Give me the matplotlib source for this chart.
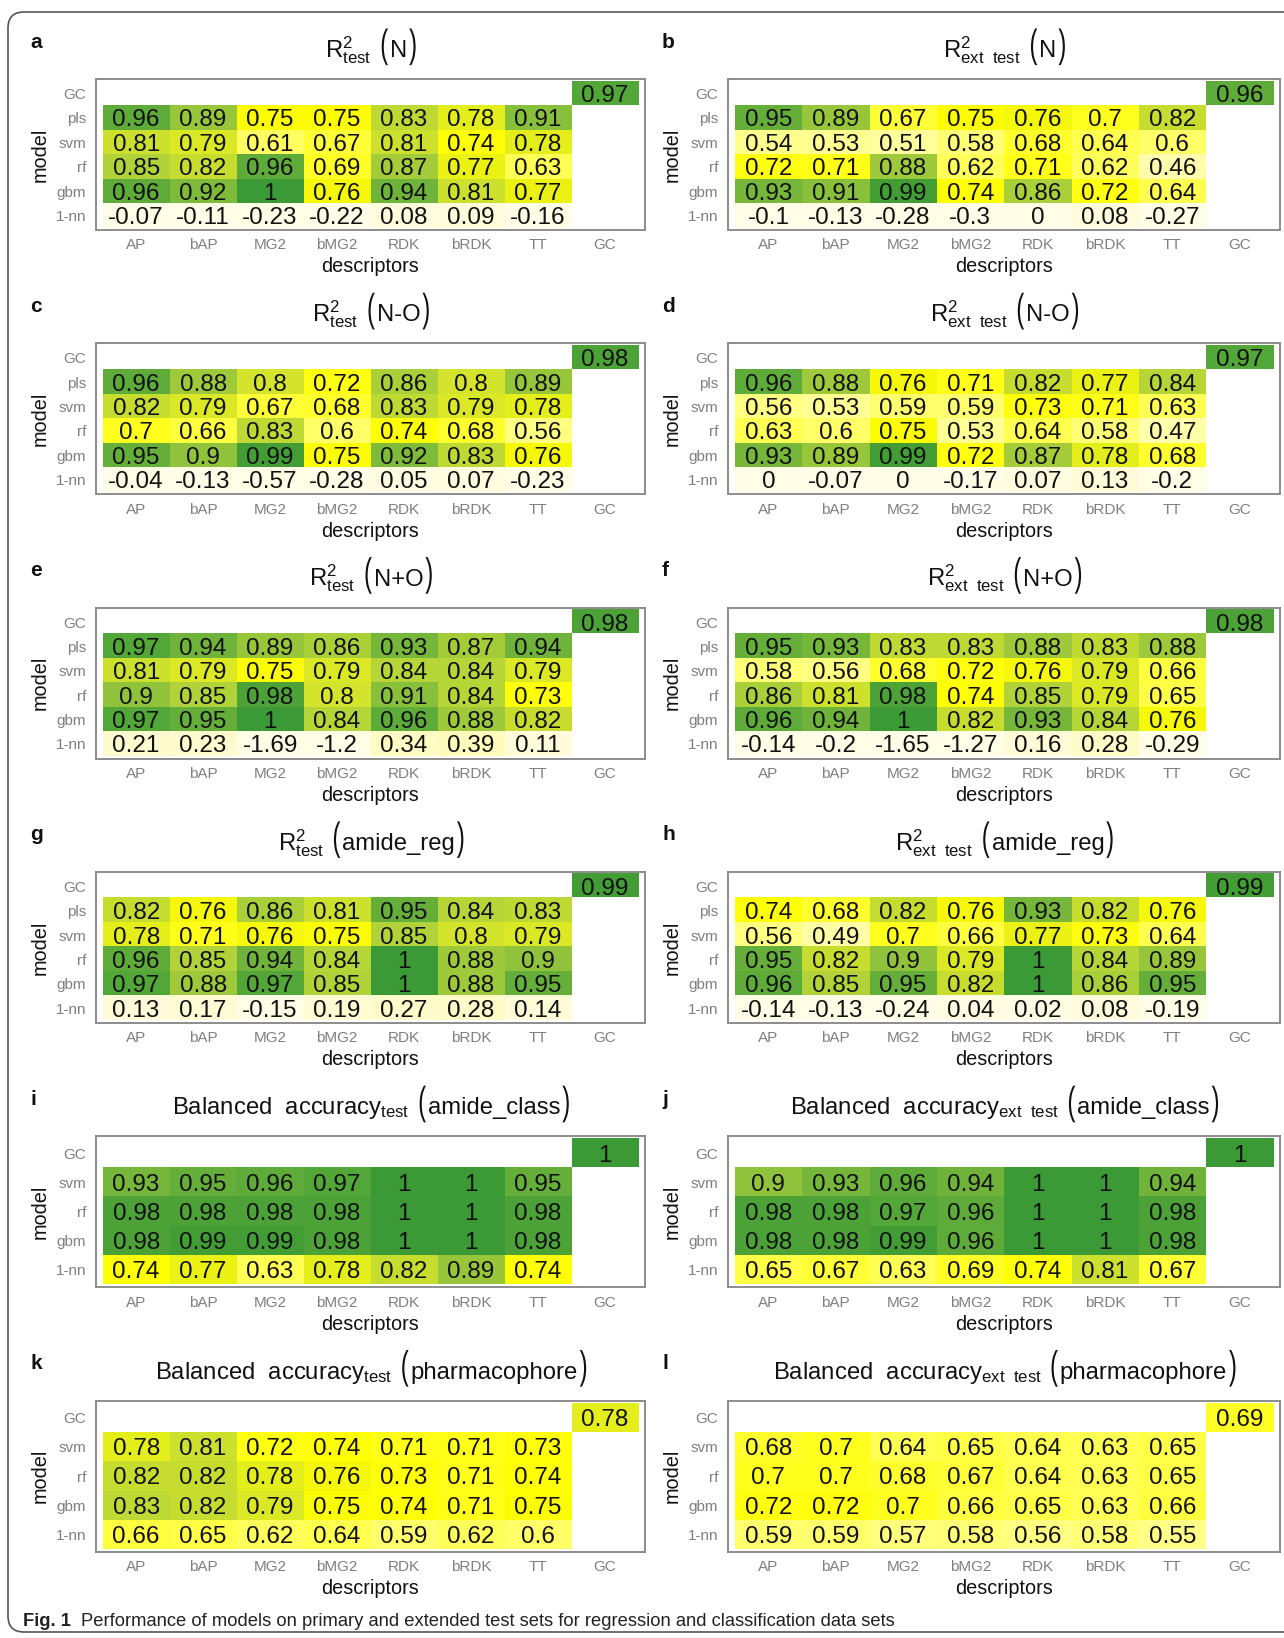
import numpy as np
import matplotlib
matplotlib.use("Agg")
import matplotlib.pyplot as plt
from matplotlib.colors import LinearSegmentedColormap, Normalize
from matplotlib.patches import FancyBboxPatch, PathPatch
from matplotlib.textpath import TextPath
from matplotlib.font_manager import FontProperties
from matplotlib.transforms import Affine2D

plt.rcParams['font.family'] = ['Liberation Sans', 'DejaVu Sans']
plt.rcParams['mathtext.fontset'] = 'custom'
plt.rcParams['mathtext.rm'] = 'Liberation Sans'
plt.rcParams['mathtext.it'] = 'Liberation Sans:italic'
plt.rcParams['mathtext.bf'] = 'Liberation Sans:bold'
plt.rcParams['mathtext.fallback'] = 'stixsans'

descriptors = ["AP", "bAP", "MG2", "bMG2", "RDK", "bRDK", "TT", "GC"]
models_reg = ["GC", "pls", "svm", "rf", "gbm", "1-nn"]
models_cls = ["GC", "svm", "rf", "gbm", "1-nn"]

# rows: pls, svm, rf, gbm, 1-nn ; columns AP..TT (GC model separately)
r2_test_N = [[0.96, 0.89, 0.75, 0.75, 0.83, 0.78, 0.91],
             [0.81, 0.79, 0.61, 0.67, 0.81, 0.74, 0.78],
             [0.85, 0.82, 0.96, 0.69, 0.87, 0.77, 0.63],
             [0.96, 0.92, 1, 0.76, 0.94, 0.81, 0.77],
             [-0.07, -0.11, -0.23, -0.22, 0.08, 0.09, -0.16]]
r2_test_N_gc = 0.97

r2_ext_N = [[0.95, 0.89, 0.67, 0.75, 0.76, 0.7, 0.82],
            [0.54, 0.53, 0.51, 0.58, 0.68, 0.64, 0.6],
            [0.72, 0.71, 0.88, 0.62, 0.71, 0.62, 0.46],
            [0.93, 0.91, 0.99, 0.74, 0.86, 0.72, 0.64],
            [-0.1, -0.13, -0.28, -0.3, 0, 0.08, -0.27]]
r2_ext_N_gc = 0.96

r2_test_NO = [[0.96, 0.88, 0.8, 0.72, 0.86, 0.8, 0.89],
              [0.82, 0.79, 0.67, 0.68, 0.83, 0.79, 0.78],
              [0.7, 0.66, 0.83, 0.6, 0.74, 0.68, 0.56],
              [0.95, 0.9, 0.99, 0.75, 0.92, 0.83, 0.76],
              [-0.04, -0.13, -0.57, -0.28, 0.05, 0.07, -0.23]]
r2_test_NO_gc = 0.98

r2_ext_NO = [[0.96, 0.88, 0.76, 0.71, 0.82, 0.77, 0.84],
             [0.56, 0.53, 0.59, 0.59, 0.73, 0.71, 0.63],
             [0.63, 0.6, 0.75, 0.53, 0.64, 0.58, 0.47],
             [0.93, 0.89, 0.99, 0.72, 0.87, 0.78, 0.68],
             [0, -0.07, 0, -0.17, 0.07, 0.13, -0.2]]
r2_ext_NO_gc = 0.97

r2_test_NpO = [[0.97, 0.94, 0.89, 0.86, 0.93, 0.87, 0.94],
               [0.81, 0.79, 0.75, 0.79, 0.84, 0.84, 0.79],
               [0.9, 0.85, 0.98, 0.8, 0.91, 0.84, 0.73],
               [0.97, 0.95, 1, 0.84, 0.96, 0.88, 0.82],
               [0.21, 0.23, -1.69, -1.2, 0.34, 0.39, 0.11]]
r2_test_NpO_gc = 0.98

r2_ext_NpO = [[0.95, 0.93, 0.83, 0.83, 0.88, 0.83, 0.88],
              [0.58, 0.56, 0.68, 0.72, 0.76, 0.79, 0.66],
              [0.86, 0.81, 0.98, 0.74, 0.85, 0.79, 0.65],
              [0.96, 0.94, 1, 0.82, 0.93, 0.84, 0.76],
              [-0.14, -0.2, -1.65, -1.27, 0.16, 0.28, -0.29]]
r2_ext_NpO_gc = 0.98

r2_test_amide = [[0.82, 0.76, 0.86, 0.81, 0.95, 0.84, 0.83],
                 [0.78, 0.71, 0.76, 0.75, 0.85, 0.8, 0.79],
                 [0.96, 0.85, 0.94, 0.84, 1, 0.88, 0.9],
                 [0.97, 0.88, 0.97, 0.85, 1, 0.88, 0.95],
                 [0.13, 0.17, -0.15, 0.19, 0.27, 0.28, 0.14]]
r2_test_amide_gc = 0.99

r2_ext_amide = [[0.74, 0.68, 0.82, 0.76, 0.93, 0.82, 0.76],
                [0.56, 0.49, 0.7, 0.66, 0.77, 0.73, 0.64],
                [0.95, 0.82, 0.9, 0.79, 1, 0.84, 0.89],
                [0.96, 0.85, 0.95, 0.82, 1, 0.86, 0.95],
                [-0.14, -0.13, -0.24, 0.04, 0.02, 0.08, -0.19]]
r2_ext_amide_gc = 0.99

# rows: svm, rf, gbm, 1-nn
ba_test_amide = [[0.93, 0.95, 0.96, 0.97, 1, 1, 0.95],
                 [0.98, 0.98, 0.98, 0.98, 1, 1, 0.98],
                 [0.98, 0.99, 0.99, 0.98, 1, 1, 0.98],
                 [0.74, 0.77, 0.63, 0.78, 0.82, 0.89, 0.74]]
ba_test_amide_gc = 1

ba_ext_amide = [[0.9, 0.93, 0.96, 0.94, 1, 1, 0.94],
                [0.98, 0.98, 0.97, 0.96, 1, 1, 0.98],
                [0.98, 0.98, 0.99, 0.96, 1, 1, 0.98],
                [0.65, 0.67, 0.63, 0.69, 0.74, 0.81, 0.67]]
ba_ext_amide_gc = 1

ba_test_pharm = [[0.78, 0.81, 0.72, 0.74, 0.71, 0.71, 0.73],
                 [0.82, 0.82, 0.78, 0.76, 0.73, 0.71, 0.74],
                 [0.83, 0.82, 0.79, 0.75, 0.74, 0.71, 0.75],
                 [0.66, 0.65, 0.62, 0.64, 0.59, 0.62, 0.6]]
ba_test_pharm_gc = 0.78

ba_ext_pharm = [[0.68, 0.7, 0.64, 0.65, 0.64, 0.63, 0.65],
                [0.7, 0.7, 0.68, 0.67, 0.64, 0.63, 0.65],
                [0.72, 0.72, 0.7, 0.66, 0.65, 0.63, 0.66],
                [0.59, 0.59, 0.57, 0.58, 0.56, 0.58, 0.55]]
ba_ext_pharm_gc = 0.69

R_T = r'$\mathrm{R}^{2}_{\mathrm{test}}$'
R_E = r'$\mathrm{R}^{2}_{\mathrm{ext\ \ test}}$'
B_T = r'$\mathrm{Balanced\ \ accuracy}_{\mathrm{test}}$'
B_E = r'$\mathrm{Balanced\ \ accuracy}_{\mathrm{ext\ \ test}}$'

paineis = [
    ("a", R_T, "N", r2_test_N, r2_test_N_gc, models_reg),
    ("b", R_E, "N", r2_ext_N, r2_ext_N_gc, models_reg),
    ("c", R_T, "N-O", r2_test_NO, r2_test_NO_gc, models_reg),
    ("d", R_E, "N-O", r2_ext_NO, r2_ext_NO_gc, models_reg),
    ("e", R_T, "N+O", r2_test_NpO, r2_test_NpO_gc, models_reg),
    ("f", R_E, "N+O", r2_ext_NpO, r2_ext_NpO_gc, models_reg),
    ("g", R_T, "amide_reg", r2_test_amide, r2_test_amide_gc, models_reg),
    ("h", R_E, "amide_reg", r2_ext_amide, r2_ext_amide_gc, models_reg),
    ("i", B_T, "amide_class", ba_test_amide, ba_test_amide_gc, models_cls),
    ("j", B_E, "amide_class", ba_ext_amide, ba_ext_amide_gc, models_cls),
    ("k", B_T, "pharmacophore", ba_test_pharm, ba_test_pharm_gc, models_cls),
    ("l", B_E, "pharmacophore", ba_ext_pharm, ba_ext_pharm_gc, models_cls),
]

cores = [(0.0, "#fffde6"), (0.2, "#fffbd2"), (0.4, "#fffcbc"), (0.5, "#ffffa4"),
         (0.58, "#ffff76"), (0.65, "#ffff48"), (0.72, "#ffff10"), (0.75, "#ffff00"),
         (0.8, "#d4e42c"), (0.85, "#b2d338"), (0.9, "#92c43c"), (0.95, "#68b03b"),
         (1.0, "#3b9a35")]
cmap = LinearSegmentedColormap.from_list("amarelo_verde", cores)
norm = Normalize(vmin=0, vmax=1, clip=True)

W, H = 1284, 1638
fig = plt.figure(figsize=(W / 100, H / 100), dpi=100)

# fundo em pixels (y de cima para baixo)
bg = fig.add_axes([0, 0, 1, 1], zorder=-1)
bg.set_xlim(0, W)
bg.set_ylim(H, 0)
bg.axis("off")
bg.add_patch(FancyBboxPatch((8, 12), 1400, 1620, boxstyle="round,pad=0,rounding_size=16",
                            fill=False, edgecolor="#555555", linewidth=1.2))

caixas_x = [(96, 645), (728, 1280)]
passo = 264.3
TAM_TIT = 17.2
titulos = []

for idx, (letra, metrica, dataset, valores, gc, modelos) in enumerate(paineis):
    lin, col = divmod(idx, 2)
    x0, x1 = caixas_x[col]
    topo = 79 + passo * lin
    base = 230 + passo * lin
    ax = fig.add_axes([x0 / W, 1 - base / H, (x1 - x0) / W, (base - topo) / H])

    n = len(modelos)
    grade = np.full((n, 8), np.nan)
    grade[0, 7] = gc
    grade[1:, :7] = np.array(valores, dtype=float)
    ax.imshow(np.ma.masked_invalid(grade), cmap=cmap, norm=norm, aspect="auto",
              interpolation="nearest", extent=(-0.5, 7.5, n - 0.5, -0.5))
    for i in range(n):
        for j in range(8):
            v = grade[i, j]
            if not np.isnan(v):
                ax.text(j, i, f"{v:g}", ha="center", va="center_baseline",
                        fontsize=17.5, color="#111111")
    ax.set_xlim(-0.6, 7.6)
    ax.set_ylim(n - 0.4, -0.6)
    ax.set_xticks(range(8), descriptors)
    ax.set_yticks(range(n), modelos)
    ax.tick_params(length=0, labelsize=11, labelcolor="#7f7f7f")
    ax.tick_params(axis="x", pad=6)
    ax.tick_params(axis="y", pad=7)
    for s in ax.spines.values():
        s.set_color("#8c8c8c")
        s.set_linewidth(1.4)

    ax.set_xlabel("descriptors", fontsize=14.3, color="#111111")
    ax.xaxis.label.set_va("center")
    ax.xaxis.set_label_coords(0.5, -37 / (base - topo))
    ax.set_ylabel("model", fontsize=14.3, color="#111111")
    ax.yaxis.label.set_va("center")
    ax.yaxis.set_label_coords(-56 / (x1 - x0), 0.5)

    y_tit = topo - 22
    t_met = bg.text(0, y_tit, metrica, ha="left", va="baseline", fontsize=TAM_TIT, color="#111111")
    t_ds = bg.text(0, y_tit, dataset, ha="left", va="baseline", fontsize=TAM_TIT, color="#111111")
    titulos.append(((x0 + x1) / 2, y_tit, t_met, t_ds))

    lx = 30 if col == 0 else 662
    bg.text(lx, topo - 37, letra, ha="left", va="center", fontsize=15,
            fontweight="bold", color="#111111")

fig.canvas.draw()
rend = fig.canvas.get_renderer()

# parenteses altos e finos, como no original
fp = FontProperties(family="Liberation Sans")
px_fonte = TAM_TIT * 100 / 72
esc_y = 1.65


def parentese(ch):
    p = TextPath((0, 0), ch, size=px_fonte, prop=fp)
    ext = p.get_extents()
    return p, ext.x0, ext.width


p_ab, ab_x0, ab_w = parentese("(")
p_fe, fe_x0, fe_w = parentese(")")
gap_a, gap_b = 10, 2

for cx, y_tit, t_met, t_ds in titulos:
    w_met = t_met.get_window_extent(rend).width
    w_ds = t_ds.get_window_extent(rend).width
    total = w_met + gap_a + ab_w + gap_b + w_ds + gap_b + fe_w
    x = cx - total / 2
    t_met.set_x(x)
    x += w_met + gap_a
    tr = Affine2D().translate(-ab_x0, 0).scale(1, -esc_y).translate(x, y_tit) + bg.transData
    bg.add_patch(PathPatch(p_ab, transform=tr, facecolor="#111111", edgecolor="none"))
    x += ab_w + gap_b
    t_ds.set_x(x)
    x += w_ds + gap_b
    tr = Affine2D().translate(-fe_x0, 0).scale(1, -esc_y).translate(x, y_tit) + bg.transData
    bg.add_patch(PathPatch(p_fe, transform=tr, facecolor="#111111", edgecolor="none"))

fig_lbl = bg.text(23, 1626, "Fig. 1", ha="left", va="baseline", fontsize=13.2,
                  fontweight="bold", color="#222222")
bb = fig_lbl.get_window_extent(rend)
bg.text(bb.x1 + 10, 1626, "Performance of models on primary and extended test sets for regression and classification data sets",
        ha="left", va="baseline", fontsize=13.2, color="#222222")

plt.savefig("out.png", dpi=100)
